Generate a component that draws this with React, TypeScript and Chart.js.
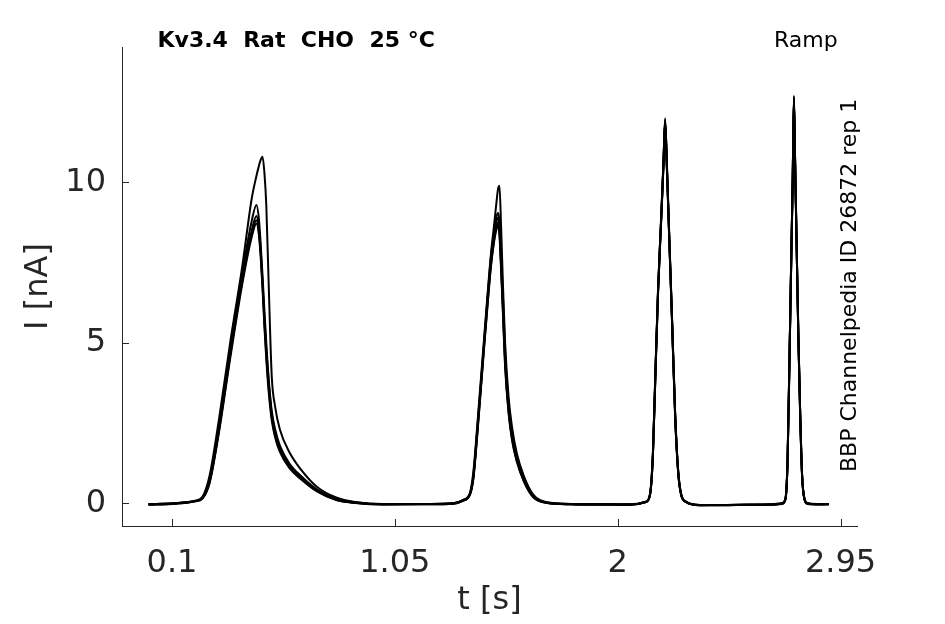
import React, { useEffect, useRef } from "react";
import { Chart, registerables } from "chart.js";

Chart.register(...registerables);

// time axis (s), shared by all sweeps
const tSec = [
  0, 0.1, 0.2, 0.23, 0.26, 0.3, 0.35, 0.4, 0.44, 0.46, 0.47, 0.478, 0.486, 0.494, 0.502, 0.512, 0.525, 0.54, 0.56, 0.6, 0.65, 0.72, 0.8, 0.88,
  1.0, 1.1, 1.2, 1.3, 1.34, 1.37, 1.385, 1.4, 1.415, 1.43, 1.445, 1.46, 1.472, 1.482, 1.49, 1.496, 1.503, 1.51, 1.52, 1.535, 1.55, 1.57, 1.6, 1.64, 1.7, 1.8,
  1.95, 2.05, 2.12, 2.138, 2.15, 2.16, 2.172, 2.185, 2.195, 2.202, 2.21, 2.22, 2.232, 2.245, 2.258, 2.27, 2.29, 2.35, 2.45, 2.55, 2.65,
  2.7, 2.715, 2.724, 2.732, 2.74, 2.746, 2.751, 2.756, 2.762, 2.77, 2.778, 2.786, 2.796, 2.81, 2.85, 2.9,
];

// current (nA) for each recorded sweep
const sweep1 = [
  -0.03, 0.0, 0.08, 0.2, 0.85, 2.6, 5.1, 7.4, 9.5, 10.2, 10.5, 10.7, 10.8, 10.3, 9.3, 6.9, 4.0, 3.0, 2.3, 1.6, 1.05, 0.5, 0.18, 0.04,
  -0.02, -0.02, -0.02, 0.0, 0.1, 0.32, 1.0, 2.3, 3.7, 5.1, 6.5, 7.8, 8.6, 9.3, 9.8, 9.9, 8.6, 7.0, 5.0, 3.3, 2.35, 1.55, 0.85, 0.27, 0.03, -0.02,
  -0.03, -0.03, 0.05, 0.3, 1.6, 3.95, 6.7, 8.9, 10.65, 12.0, 10.5, 8.3, 5.7, 2.8, 1.0, 0.3, 0.06, -0.05, -0.05, -0.04, -0.03,
  0.0, 0.15, 1.4, 4.5, 7.8, 10.2, 12.7, 10.8, 8.4, 5.3, 2.8, 0.9, 0.15, 0.0, -0.02, -0.02,
];
const sweep2 = [
  -0.03, 0.0, 0.08, 0.18, 0.72, 2.4, 4.9, 7.2, 8.8, 9.3, 8.9, 8.1, 7.1, 6.0, 5.0, 3.9, 2.9, 2.3, 1.8, 1.25, 0.85, 0.42, 0.14, 0.03,
  -0.03, -0.02, -0.02, 0.0, 0.1, 0.3, 0.9, 2.2, 3.6, 5.0, 6.4, 7.7, 8.4, 8.9, 9.05, 8.8, 7.8, 6.6, 4.7, 3.1, 2.2, 1.45, 0.8, 0.25, 0.02, -0.02,
  -0.03, -0.04, 0.05, 0.3, 1.55, 3.9, 6.65, 8.85, 10.6, 11.95, 10.45, 8.25, 5.65, 2.75, 0.98, 0.3, 0.05, -0.05, -0.05, -0.04, -0.04,
  0.0, 0.14, 1.35, 4.45, 7.75, 10.15, 12.65, 10.75, 8.35, 5.25, 2.75, 0.88, 0.14, 0.0, -0.03, -0.02,
];
const sweep3 = [
  -0.04, -0.01, 0.07, 0.17, 0.68, 2.3, 4.8, 7.05, 8.5, 8.95, 8.6, 7.9, 6.9, 5.8, 4.8, 3.8, 2.8, 2.2, 1.72, 1.2, 0.8, 0.4, 0.12, 0.02,
  -0.03, -0.03, -0.02, 0.0, 0.09, 0.28, 0.85, 2.1, 3.5, 4.9, 6.3, 7.55, 8.25, 8.75, 8.9, 8.6, 7.5, 6.3, 4.5, 2.95, 2.1, 1.38, 0.75, 0.22, 0.02, -0.03,
  -0.04, -0.04, 0.04, 0.28, 1.5, 3.85, 6.6, 8.8, 10.55, 11.9, 10.4, 8.2, 5.6, 2.7, 0.95, 0.28, 0.05, -0.06, -0.05, -0.05, -0.04,
  -0.01, 0.13, 1.3, 4.4, 7.7, 10.1, 12.6, 10.7, 8.3, 5.2, 2.7, 0.85, 0.13, -0.01, -0.03, -0.03,
];
const sweep4 = [
  -0.04, -0.01, 0.07, 0.16, 0.65, 2.25, 4.7, 6.95, 8.4, 8.82, 8.5, 7.8, 6.8, 5.65, 4.65, 3.65, 2.7, 2.1, 1.65, 1.15, 0.78, 0.38, 0.11, 0.02,
  -0.03, -0.03, -0.03, -0.01, 0.08, 0.27, 0.8, 2.05, 3.45, 4.85, 6.2, 7.45, 8.15, 8.6, 8.75, 8.45, 7.35, 6.15, 4.35, 2.85, 2.0, 1.32, 0.7, 0.2, 0.01, -0.03,
  -0.04, -0.04, 0.04, 0.28, 1.5, 3.85, 6.6, 8.8, 10.55, 11.9, 10.4, 8.2, 5.6, 2.7, 0.95, 0.28, 0.05, -0.06, -0.06, -0.05, -0.04,
  -0.01, 0.13, 1.3, 4.4, 7.7, 10.1, 12.6, 10.7, 8.3, 5.2, 2.7, 0.85, 0.13, -0.01, -0.03, -0.03,
];
const sweep5 = [
  -0.04, -0.02, 0.06, 0.15, 0.62, 2.2, 4.6, 6.85, 8.3, 8.72, 8.4, 7.7, 6.7, 5.5, 4.5, 3.5, 2.6, 2.05, 1.6, 1.1, 0.75, 0.36, 0.1, 0.01,
  -0.04, -0.03, -0.03, -0.01, 0.08, 0.26, 0.78, 2.0, 3.4, 4.8, 6.15, 7.4, 8.1, 8.5, 8.65, 8.35, 7.25, 6.05, 4.25, 2.8, 1.95, 1.3, 0.68, 0.19, 0.01, -0.03,
  -0.04, -0.05, 0.04, 0.27, 1.45, 3.8, 6.55, 8.75, 10.5, 11.85, 10.35, 8.15, 5.55, 2.65, 0.92, 0.27, 0.04, -0.06, -0.06, -0.05, -0.05,
  -0.02, 0.12, 1.25, 4.35, 7.65, 10.05, 12.55, 10.65, 8.25, 5.15, 2.65, 0.82, 0.12, -0.02, -0.04, -0.03,
];
const sweeps = [sweep1, sweep2, sweep3, sweep4, sweep5];

const xTickValues = [0.1, 1.05, 2, 2.95];
const xTickLabels = ["0.1", "1.05", "2", "2.95"];
const yTickValues = [0, 5, 10];
const yTickLabels = ["0", "5", "10"];
const xRange = [-0.113, 3.02];
const yRange = [-0.707, 14.22];

const titleText = "Kv3.4  Rat  CHO  25 °C";
const protocolText = "Ramp";
const sourceText = "BBP Channelpedia ID 26872 rep 1";
const xTitle = "t [s]";
const yTitle = "I [nA]";

const FONT = '"DejaVu Sans"';
const AXIS_COLOR = "#262626";

export default function App() {
  const ref = useRef<HTMLCanvasElement>(null);

  useEffect(() => {
    const canvas = ref.current;
    if (!canvas) return;

    const overlay = {
      id: "overlay",
      afterDraw(chart: any) {
        const { ctx, chartArea, scales } = chart;
        ctx.save();
        ctx.strokeStyle = AXIS_COLOR;
        ctx.lineWidth = 1;
        ctx.beginPath();
        for (const v of xTickValues) {
          const px = Math.round(scales.x.getPixelForValue(v)) + 0.5;
          ctx.moveTo(px, chartArea.bottom);
          ctx.lineTo(px, chartArea.bottom - 7);
        }
        for (const v of yTickValues) {
          const py = Math.round(scales.y.getPixelForValue(v)) + 0.5;
          ctx.moveTo(chartArea.left, py);
          ctx.lineTo(chartArea.left + 7, py);
        }
        ctx.stroke();

        ctx.fillStyle = "#000000";
        ctx.textAlign = "left";
        ctx.textBaseline = "alphabetic";
        ctx.font = `bold 22px ${FONT}`;
        ctx.fillText(titleText, 157.5, 46.7);
        ctx.font = `22px ${FONT}`;
        ctx.fillText(protocolText, 774, 46.7);
        ctx.translate(855.5, 472);
        ctx.rotate(-Math.PI / 2);
        ctx.fillText(sourceText, 0, 0);
        ctx.restore();
      },
    };

    Chart.defaults.font.family = FONT;

    const chart = new Chart(canvas, {
      type: "line",
      data: {
        datasets: sweeps.map((s, i) => ({
          label: `sweep ${i + 1}`,
          data: tSec.map((t, j) => ({ x: t, y: s[j] })),
          borderColor: "#000000",
          borderWidth: 2,
          pointRadius: 0,
          fill: false,
          cubicInterpolationMode: "monotone" as const,
        })),
      },
      options: {
        animation: false,
        responsive: false,
        devicePixelRatio: window.devicePixelRatio || 1,
        layout: { padding: { left: 0, top: 47, right: 88, bottom: 0 } },
        plugins: {
          legend: { display: false },
          tooltip: { enabled: false },
          title: { display: false },
        },
        scales: {
          x: {
            type: "linear",
            min: xRange[0],
            max: xRange[1],
            afterFit: (s: any) => {
              s.height = 98;
            },
            afterBuildTicks: (s: any) => {
              s.ticks = xTickValues.map((value) => ({ value }));
            },
            grid: { display: false },
            border: { display: true, color: AXIS_COLOR, width: 1 },
            ticks: {
              autoSkip: false,
              maxRotation: 0,
              minRotation: 0,
              padding: 10,
              color: AXIS_COLOR,
              font: { size: 32, family: FONT },
              callback: (v: any) => {
                const i = xTickValues.indexOf(Number(v));
                return i >= 0 ? xTickLabels[i] : "";
              },
            },
            title: {
              display: true,
              text: xTitle,
              color: AXIS_COLOR,
              font: { size: 32, family: FONT },
              padding: { top: 0, bottom: 4 },
            },
          },
          y: {
            type: "linear",
            min: yRange[0],
            max: yRange[1],
            afterFit: (s: any) => {
              s.width = 122;
            },
            afterBuildTicks: (s: any) => {
              s.ticks = yTickValues.map((value) => ({ value }));
            },
            grid: { display: false },
            border: { display: true, color: AXIS_COLOR, width: 1 },
            ticks: {
              autoSkip: false,
              padding: 8,
              color: AXIS_COLOR,
              font: { size: 32, family: FONT },
              callback: (v: any) => {
                const i = yTickValues.indexOf(Number(v));
                return i >= 0 ? yTickLabels[i] : "";
              },
            },
            title: {
              display: true,
              text: yTitle,
              color: AXIS_COLOR,
              font: { size: 32, family: FONT },
              padding: { top: 19, bottom: 0 },
            },
          },
        },
      },
      plugins: [overlay],
    });

    return () => {
      chart.destroy();
    };
  }, []);

  return (
    <div
      style={{
        position: "absolute",
        left: 0,
        top: 0,
        width: 945,
        height: 624,
        background: "#ffffff",
      }}
    >
      <canvas
        ref={ref}
        width={945}
        height={624}
        style={{ display: "block", width: 945, height: 624 }}
      />
    </div>
  );
}
